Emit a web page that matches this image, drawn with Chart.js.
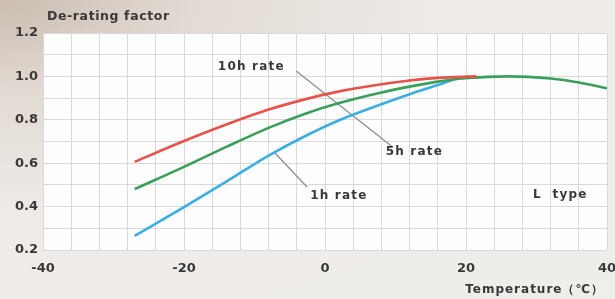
<!DOCTYPE html>
<html lang="en">
  <head>
    <meta charset="UTF-8" />
    <title>De-rating factor</title>
    <script src="https://cdn.jsdelivr.net/npm/chart.js"></script>
    <style>
      html,
      body {
        margin: 0;
        padding: 0;
      }
      body {
        width: 615px;
        height: 299px;
        overflow: hidden;
        background: radial-gradient(
          ellipse at 0% 0%,
          #cbbdb1 0%,
          #e2dad3 22%,
          #eeebe8 50%,
          #f0eeeb 100%
        );
      }
      canvas {
        display: block;
      }
    </style>
  </head>
  <body>
    <canvas id="derating" width="615" height="299"></canvas>

    <script>
      // values (temperature in C, factor)
      const rate10hTemp = [-27, -20, -14, -8, -3, 2, 8, 12, 16, 21.5];
      const rate10hFactor = [0.606, 0.702, 0.778, 0.847, 0.893, 0.931, 0.964, 0.981, 0.993, 1.0];

      const rate5hTemp = [-27, -20, -14, -8, -3, 2, 8, 12, 16, 19, 23, 26, 32, 36, 40];
      const rate5hFactor = [0.481, 0.583, 0.675, 0.763, 0.826, 0.877, 0.926, 0.953, 0.976, 0.989, 0.998, 1.0, 0.99, 0.972, 0.945];

      const rate1hTemp = [-27, -20, -14, -8, -3, 2, 8, 12, 16, 18.5, 20.5];
      const rate1hFactor = [0.265, 0.398, 0.515, 0.635, 0.722, 0.798, 0.872, 0.918, 0.96, 0.988, 0.999];

      const xTickLabels = [-40, -20, 0, 20, 40];
      const yTickLabels = [0.2, 0.4, 0.6, 0.8, 1.0, 1.2];

      // text notes in data units: [text, temp, factor]
      const notes = [
        ["10h rate", -15.2, 1.043],
        ["5h rate", 8.6, 0.652],
        ["1h rate", -2.1, 0.449],
        ["L  type", 29.5, 0.454],
      ];
      // leader lines in data units: [t1, f1, t2, f2]
      const leaders = [
        [-4.1, 1.025, 9.6, 0.675],
        [-7.1, 0.647, -2.55, 0.49],
      ];

      const toPoints = (xs, ys) => xs.map((x, i) => ({ x: x, y: ys[i] }));

      const textColor = "#3a3838";

      const plotBackground = {
        id: "plotBackground",
        beforeDraw(chart) {
          const { ctx, chartArea } = chart;
          ctx.save();
          ctx.fillStyle = "#fdfdfd";
          ctx.fillRect(
            chartArea.left,
            chartArea.top,
            chartArea.right - chartArea.left,
            chartArea.bottom - chartArea.top
          );
          ctx.restore();
        },
      };

      const notesPlugin = {
        id: "notes",
        beforeDatasetsDraw(chart) {
          const { ctx } = chart;
          const xs = chart.scales.x;
          const ys = chart.scales.y;
          ctx.save();
          ctx.strokeStyle = "#8f8f8f";
          ctx.lineWidth = 1.3;
          leaders.forEach(([x1, y1, x2, y2]) => {
            ctx.beginPath();
            ctx.moveTo(xs.getPixelForValue(x1), ys.getPixelForValue(y1));
            ctx.lineTo(xs.getPixelForValue(x2), ys.getPixelForValue(y2));
            ctx.stroke();
          });
          ctx.restore();
        },
        afterDatasetsDraw(chart) {
          const { ctx } = chart;
          const xs = chart.scales.x;
          const ys = chart.scales.y;
          ctx.save();
          ctx.fillStyle = textColor;
          ctx.textBaseline = "middle";
          ctx.textAlign = "left";
          ctx.font = "bold 12px 'DejaVu Sans'";
          ctx.letterSpacing = "1.2px";
          notes.forEach(([t, x, y]) => {
            ctx.fillText(t, xs.getPixelForValue(x), ys.getPixelForValue(y));
          });

          // axis titles
          ctx.font = "bold 12.5px 'DejaVu Sans'";
          ctx.letterSpacing = "0.6px";
          ctx.fillText("De-rating factor", 47, 17);
          ctx.textAlign = "right";
          ctx.font = "bold 12px 'DejaVu Sans'";
          ctx.letterSpacing = "1px";
          ctx.fillText("Temperature（℃）", 604, 290);
          ctx.restore();
        },
      };

      const ctx = document.getElementById("derating").getContext("2d");

      new Chart(ctx, {
        type: "line",
        data: {
          datasets: [
            {
              label: "10h rate",
              data: toPoints(rate10hTemp, rate10hFactor),
              borderColor: "#e5534b",
            },
            {
              label: "5h rate",
              data: toPoints(rate5hTemp, rate5hFactor),
              borderColor: "#3a9f5a",
            },
            {
              label: "1h rate",
              data: toPoints(rate1hTemp, rate1hFactor),
              borderColor: "#3daee0",
            },
          ],
        },
        options: {
          responsive: false,
          animation: false,
          layout: { padding: { top: 33, right: 8, left: 0, bottom: 0 } },
          elements: {
            point: { radius: 0 },
            line: {
              borderWidth: 2.6,
              tension: 0.4,
              cubicInterpolationMode: "monotone",
              fill: false,
            },
          },
          plugins: {
            legend: { display: false },
            tooltip: { enabled: false },
          },
          scales: {
            x: {
              type: "linear",
              min: -40,
              max: 40,
              border: { display: false },
              grid: { color: "#d9d9d9", drawTicks: false },
              ticks: {
                stepSize: 4,
                autoSkip: false,
                maxRotation: 0,
                padding: 11,
                color: textColor,
                font: { family: "'DejaVu Sans'", size: 13, weight: "bold" },
                callback: (v) => (xTickLabels.includes(v) ? String(v) : ""),
              },
              afterFit: (s) => {
                s.height = 49;
                s.paddingLeft = 0;
                s.paddingRight = 0;
              },
            },
            y: {
              min: 0.2,
              max: 1.2,
              border: { display: false },
              grid: { color: "#d9d9d9", drawTicks: false },
              ticks: {
                stepSize: 0.1,
                autoSkip: false,
                padding: 5,
                color: textColor,
                font: { family: "'DejaVu Sans'", size: 13, weight: "bold" },
                callback: (v) => {
                  const r = Math.round(v * 10) / 10;
                  return yTickLabels.includes(r) ? r.toFixed(1) : "";
                },
              },
              afterFit: (s) => {
                s.width = 43;
              },
            },
          },
        },
        plugins: [plotBackground, notesPlugin],
      });
    </script>
  </body>
</html>
